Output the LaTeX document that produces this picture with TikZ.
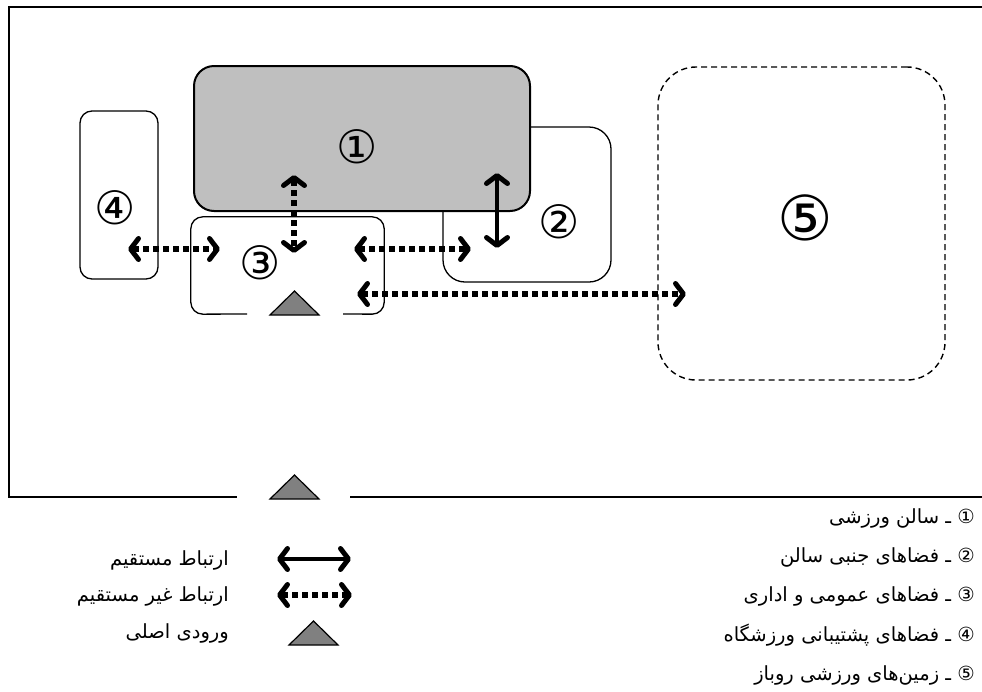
\documentclass[tikz,border=0pt]{standalone}
\usepackage{fontspec}
\setmainfont{DejaVu Sans}
\newfontfamily\arabicfont[Script=Arabic]{DejaVu Sans}
\TeXXeTstate=1
\usetikzlibrary{arrows.meta}
\tikzset{
  room/.style={draw=black, line width=1.3pt, fill=white, rounded corners=#1, inner sep=0pt},
  hall/.style={draw=black, line width=2pt, fill=black!25, rounded corners=20pt, inner sep=0pt},
  openfield/.style={draw=black, line width=1.4pt, dash pattern=on 6pt off 4pt, rounded corners=38pt, inner sep=0pt},
  barb/.tip={Straight Barb[length=8pt, width=21pt, line width=5pt, round]},
  direct/.style={line width=4.5pt, {barb}-{barb}},
  indirect/.style={line width=5.5pt, dash pattern=on 5.5pt off 4.5pt, {barb}-{barb}},
  entry/.style={draw=black, line width=1.2pt, fill=black!50, line join=miter},
  num/.style={font=\fontsize{46}{46}\selectfont, inner sep=0pt},
  bignum/.style={font=\fontsize{62}{62}\selectfont, inner sep=0pt},
  legtext/.style={font=\arabicfont\fontsize{19.5}{22}\selectfont, anchor=east, inner sep=0pt},
  frame/.style={line width=2.5pt}
}
\begin{document}
\begin{tikzpicture}[x=1pt, y=-1pt]
\useasboundingbox (0,0) rectangle (982,691);
% frame
\coordinate (fbl) at (9,497);
\coordinate (fgl) at (237,497);
\coordinate (fgr) at (350,497);
\coordinate (fbr) at (982,497);
\coordinate (ftl) at (9,7);
\coordinate (ftr) at (982,7);
\draw[frame] (ftr) -- (ftl) -- (fbl) -- (fgl);
\draw[frame] (fgr) -- (fbr);
\draw[entry] (270,499) -- (294.5,475) -- (319,499) -- cycle;

% rooms
\node[room=22pt, minimum width=168pt, minimum height=155pt] (r2) at (527,204.5) {};
\node[hall, minimum width=336pt, minimum height=145pt] (r1) at (362,138.5) {};
\node[room=12pt, minimum width=78pt, minimum height=168pt] (r4) at (119,195) {};
\node[openfield, minimum width=287pt, minimum height=313pt] (r5) at (801.5,223.5) {};
% room 3 with a gap for the entrance
\node[inner sep=0pt, minimum width=193pt, minimum height=97pt] (r3) at (287.5,265.5) {};
\draw[line width=1.3pt, rounded corners=12pt] (247,314) -- (r3.south west) -- (r3.north west) -- (r3.north east) -- (r3.south east) -- (343,314);
\draw[entry] (270,315) -- (294.5,291) -- (319,315) -- cycle;

% numbers
\node[num] (n1) at (357,147) {①};
\node[num] (n2) at (559,222) {②};
\node[num] (n3) at (260,263) {③};
\node[num] (n4) at (115,208) {④};
\node[bignum] (n5) at (805,218) {⑤};

% connectors
\coordinate (c13a) at (294,175); \coordinate (c13b) at (294,253);
\coordinate (c12a) at (497,173); \coordinate (c12b) at (497,248);
\coordinate (c43a) at (128,249); \coordinate (c43b) at (220,249);
\coordinate (c32a) at (354,249); \coordinate (c32b) at (471,249);
\coordinate (c35a) at (357,294); \coordinate (c35b) at (686,294);
\draw[indirect] (c13a) -- (c13b);
\draw[direct] (c12a) -- (c12b);
\draw[indirect] (c43a) -- (c43b);
\draw[indirect] (c32a) -- (c32b);
\draw[indirect] (c35a) -- (c35b);

% legend right
\node[legtext] (l1) at (975,518) {\beginR ① ـ سالن ورزشی\endR};
\node[legtext] (l2) at (975,557) {\beginR ② ـ فضاهای جنبی سالن\endR};
\node[legtext] (l3) at (975,596) {\beginR ③ ـ فضاهای عمومی و اداری\endR};
\node[legtext] (l4) at (975,635) {\beginR ④ ـ فضاهای پشتیبانی ورزشگاه\endR};
\node[legtext] (l5) at (975,675) {\beginR ⑤ ـ زمین‌های ورزشی روباز\endR};

% legend left
\coordinate (ka) at (277,559); \coordinate (kb) at (351,559);
\coordinate (kc) at (277,595); \coordinate (kd) at (352,595);
\draw[direct] (ka) -- (kb);
\draw[indirect] (kc) -- (kd);
\draw[entry] (289,645) -- (313.5,621) -- (338,645) -- cycle;
\node[legtext] (k1) at (229,560) {\beginR ارتباط مستقیم\endR};
\node[legtext] (k2) at (229,596) {\beginR ارتباط غیر مستقیم\endR};
\node[legtext] (k3) at (229,633) {\beginR ورودی اصلی\endR};
\end{tikzpicture}
\end{document}
